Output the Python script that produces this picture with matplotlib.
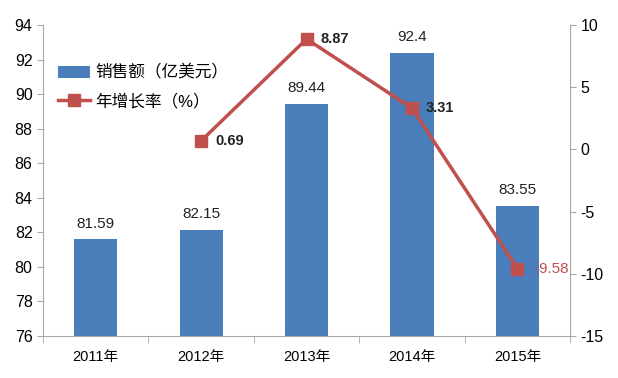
import matplotlib
matplotlib.use("Agg")
import matplotlib.pyplot as plt
from matplotlib.patches import Patch
from matplotlib.lines import Line2D

plt.rcParams['font.family'] = ['Liberation Sans', 'Noto Sans CJK SC', 'DejaVu Sans']
plt.rcParams['axes.unicode_minus'] = False

years = ['2011年', '2012年', '2013年', '2014年', '2015年']
sales = [81.59, 82.15, 89.44, 92.4, 83.55]
growth_years = ['2012年', '2013年', '2014年', '2015年']
growth = [0.69, 8.87, 3.31, -9.58]
left_ticks = [76, 78, 80, 82, 84, 86, 88, 90, 92, 94]
right_ticks = [-15, -10, -5, 0, 5, 10]

bar_color = '#4A7EBB'
line_color = '#C0504D'
axis_color = '#A6A6A6'

fig = plt.figure(figsize=(6.18, 3.78), dpi=100)
ax = fig.add_axes([0.0696, 0.111, 0.853, 0.823])
x = list(range(len(years)))
ax.bar(x, [s - 76 for s in sales], bottom=76, width=0.41, color=bar_color, zorder=2)
ax.set_ylim(76, 94)
ax.set_xlim(-0.5, len(years) - 0.5)
ax.set_yticks(left_ticks)
ax.set_xticks(x)
ax.set_xticklabels(years, fontsize=10.5)
ax.tick_params(axis='x', length=0, pad=10)
ax.set_xticks([i + 0.5 for i in range(-1, len(years))], minor=True)
ax.tick_params(axis='x', which='minor', length=5, color=axis_color, direction='out')
ax.tick_params(axis='y', labelsize=11.5, length=4, color=axis_color)
for s in ['top', 'right']:
    ax.spines[s].set_visible(False)
for s in ['left', 'bottom']:
    ax.spines[s].set_color(axis_color)

for xi, v in zip(x, sales):
    ax.annotate(f'{v:g}', (xi, v), xytext=(0, 6), textcoords='offset points',
                ha='center', va='bottom', fontsize=11, color='#222222')

ax2 = ax.twinx()
gx = [years.index(g) for g in growth_years]
ax2.plot(gx, growth, color=line_color, linewidth=2.5, marker='s', markersize=8,
         markerfacecolor=line_color, markeredgecolor=line_color, zorder=3)
ax2.set_ylim(-15, 10)
ax2.set_yticks(right_ticks)
ax2.tick_params(axis='y', labelsize=11.5, length=4, color=axis_color)
for s in ['top', 'left', 'bottom']:
    ax2.spines[s].set_visible(False)
ax2.spines['right'].set_color(axis_color)

for xi, v in zip(gx, growth):
    if v < 0:
        ax2.annotate(f'{v:g}', (xi, v), xytext=(12, 0), textcoords='offset points',
                     ha='left', va='center', fontsize=11, color=line_color, zorder=5)
    else:
        ax2.annotate(f'{v:g}', (xi, v), xytext=(10, 0), textcoords='offset points',
                     ha='left', va='center', fontsize=10.5, fontweight='bold', color='#222222')

handles = [Patch(facecolor=bar_color, label='销售额（亿美元）'),
           Line2D([0], [0], color=line_color, linewidth=2.5, marker='s', markersize=8,
                  label='年增长率（%）')]
ax.legend(handles=handles, loc='upper left', bbox_to_anchor=(0.0, 0.92), frameon=False,
          fontsize=12, handlelength=1.9, handletextpad=0.35, labelspacing=0.75)

fig.savefig('out.png', dpi=100)
